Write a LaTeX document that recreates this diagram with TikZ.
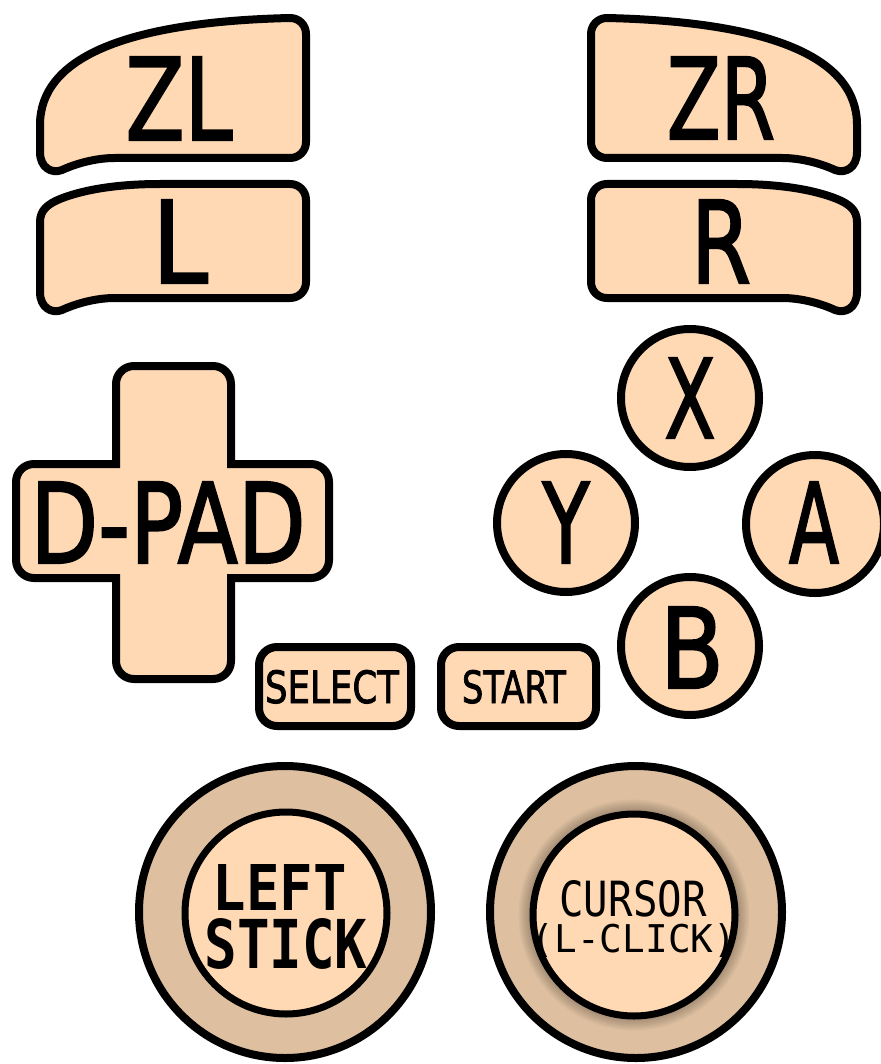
\documentclass[tikz,border=0pt]{standalone}
\usepackage{fontspec}
\setmainfont{DejaVu Sans}
\newfontfamily\heavyfont{DejaVu Sans}[FakeBold=2]
\newfontfamily\monofont{DejaVu Sans Mono}
\usepackage{graphicx}
\definecolor{peach}{RGB}{255,217,179}
\definecolor{ringcol}{RGB}{222,192,160}
\newcommand{\fitbox}[3]{\resizebox{#1pt}{#2pt}{#3}}
\begin{document}
\begin{tikzpicture}[x=1pt,y=-1pt,
  btn/.style={draw=black, fill=peach, line width=8pt, line join=round},
  lbl/.style={anchor=base, inner sep=0pt, outer sep=0pt, font=\heavyfont},
  sticklbl/.style={lbl, font=\monofont\bfseries},
  curlbl/.style={lbl, font=\monofont}]
\useasboundingbox[fill=white] (0,0) rectangle (880,1064);

% ---------- shoulder buttons (left) ----------
\def\zlpath{(290,18) .. controls (299,18) and (306,25) .. (306,34)
  -- (306,142) .. controls (306,151) and (299,158) .. (290,158)
  -- (115,158) .. controls (95,158) and (75,164) .. (62,170)
  .. controls (52,174) and (40,168) .. (40,152)
  -- (40,125) .. controls (40,60) and (120,22) .. (290,18) -- cycle}
\def\lpath{(290,184) .. controls (299,184) and (306,191) .. (306,200)
  -- (306,282) .. controls (306,291) and (299,298) .. (290,298)
  -- (115,298) .. controls (95,298) and (75,304) .. (62,310)
  .. controls (52,314) and (40,308) .. (40,292)
  -- (40,222) .. controls (40,210) and (48,204) .. (60,199)
  .. controls (85,189) and (120,184) .. (160,184) -- cycle}
\draw[btn] \zlpath;
\draw[btn] \lpath;
% ---------- shoulder buttons (right, mirrored) ----------
\begin{scope}[xshift=897pt, xscale=-1]
  \draw[btn] \zlpath;
  \draw[btn] \lpath;
\end{scope}
\node[lbl] (zl) at (179,140) {\fitbox{107}{83}{ZL}};
\node[lbl] (l)  at (180,283) {\fitbox{56}{83}{L}};
\node[lbl] (zr) at (721,139) {\fitbox{108}{82}{ZR}};
\node[lbl] (r)  at (721,283) {\fitbox{60}{83}{R}};

% ---------- D-pad ----------
\draw[btn, line join=miter] (116,464) -- (116,384) .. controls (116,374) and (124,366) .. (134,366)
  -- (213,366) .. controls (223,366) and (231,374) .. (231,384) -- (231,464)
  -- (311,464) .. controls (321,464) and (329,472) .. (329,482)
  -- (329,560) .. controls (329,570) and (321,578) .. (311,578) -- (231,578)
  -- (231,661) .. controls (231,671) and (223,679) .. (213,679)
  -- (134,679) .. controls (124,679) and (116,671) .. (116,661) -- (116,578)
  -- (34,578) .. controls (24,578) and (16,570) .. (16,560)
  -- (16,482) .. controls (16,472) and (24,464) .. (34,464) -- cycle;
\node[lbl] (dpad) at (168,563) {\fitbox{275}{81}{D-PAD}};

% ---------- face buttons ----------
\draw[btn] (690,398) circle[radius=69pt];
\draw[btn] (566,523) circle[radius=69pt];
\draw[btn] (815,524) circle[radius=69pt];
\draw[btn] (690,646) circle[radius=69pt];
\node[lbl] (x) at (690,438) {\fitbox{51}{80}{X}};
\node[lbl] (y) at (566,563) {\fitbox{47}{81}{Y}};
\node[lbl] (a) at (814,563) {\fitbox{50}{81}{A}};
\node[lbl] (b) at (692,688) {\fitbox{64}{81}{B}};

% ---------- select / start ----------
\draw[btn, rounded corners=18pt] (259,647) rectangle (411,726);
\draw[btn, rounded corners=18pt] (441,647) rectangle (596,726);
\node[lbl] (select) at (332,703) {\fitbox{134}{33}{SELECT}};
\node[lbl] (start)  at (514,703) {\fitbox{104}{33}{START}};

% ---------- left stick ----------
\draw[btn, fill=ringcol] (285,912) circle[radius=146pt];
\draw[btn, line width=7pt] (286,913) circle[radius=101pt];
\node[sticklbl] (left)  at (280,910) {\fitbox{134}{46}{LEFT}};
\node[sticklbl] (stick) at (286,968) {\fitbox{163}{50}{STICK}};

% ---------- right stick ----------
\draw[btn, fill=ringcol] (636,912) circle[radius=146pt];
\foreach \i in {1,...,9}{
  \fill[black, opacity=0.035] (634,915) circle[radius={101pt+\i*1.6pt}];
}
\draw[btn, line width=7pt] (634,915) circle[radius=101pt];
\node[curlbl] (cursor) at (633,916) {\fitbox{147}{36}{CURSOR}};
\node[curlbl] (lclick) at (634,952) {\fitbox{204}{29}{(L-CLICK)}};
\end{tikzpicture}
\end{document}
